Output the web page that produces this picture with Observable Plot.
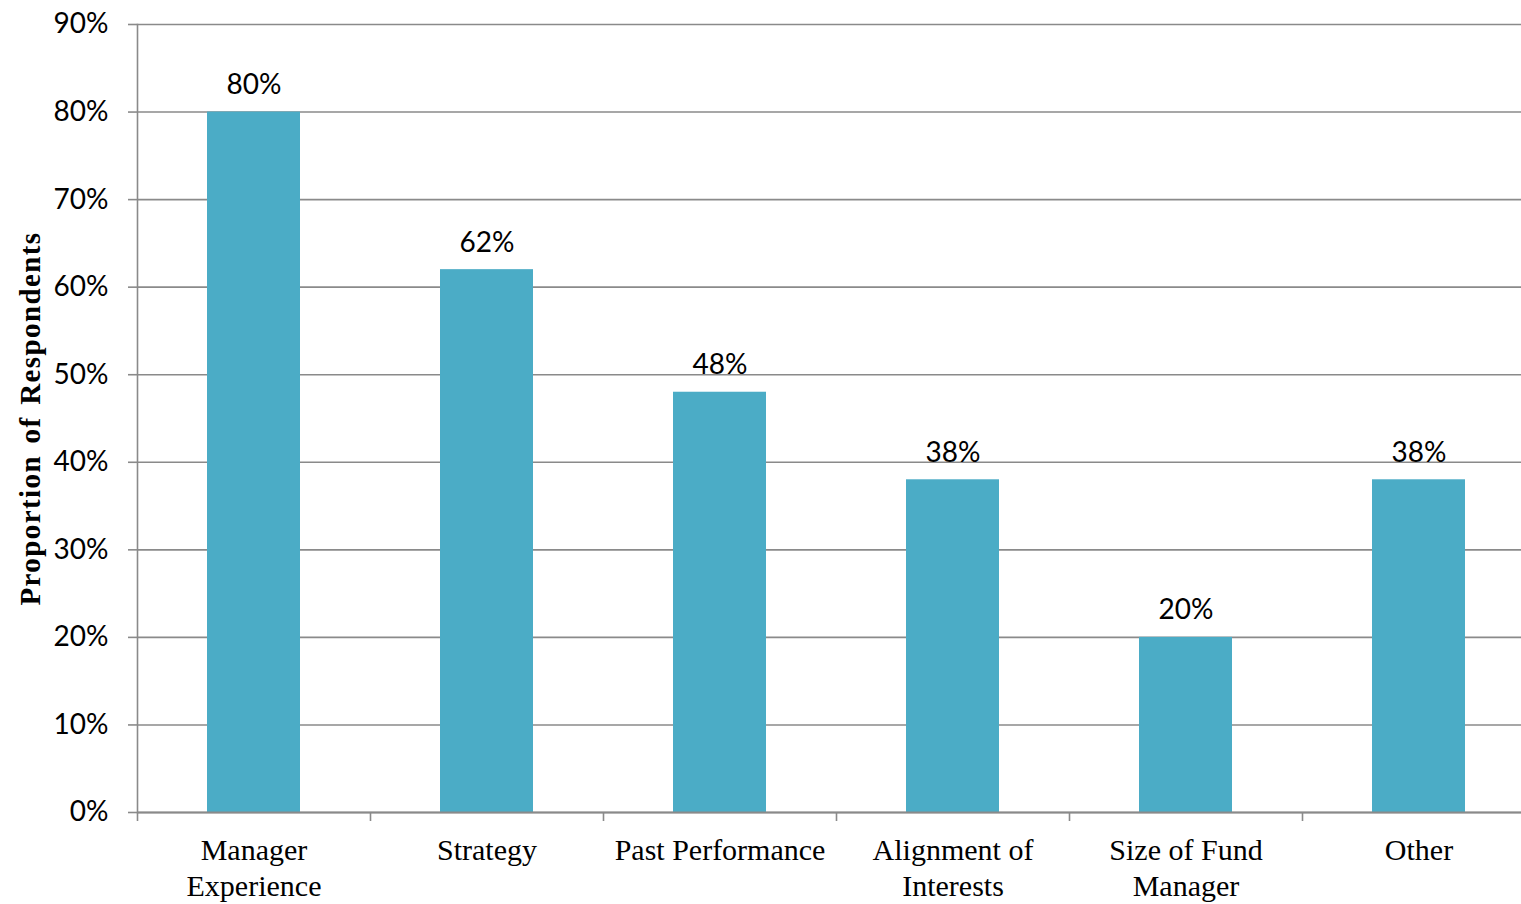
<!DOCTYPE html>
<html>
<head>
<meta charset="utf-8">
<script src="https://cdn.jsdelivr.net/npm/d3@7"></script>
<script src="https://cdn.jsdelivr.net/npm/@observablehq/plot@0.6"></script>
<style>
  html, body { margin: 0; padding: 0; background: #ffffff; }
  #chart svg { display: block; }
  .y-title text { letter-spacing: 1.4px; word-spacing: 3px; }
</style>
</head>
<body>
<div id="chart"></div>
<script>
// Survey: factors considered when selecting a fund manager
const categories = [
  "Manager\nExperience",
  "Strategy",
  "Past Performance",
  "Alignment of\nInterests",
  "Size of Fund\nManager",
  "Other"
];
const shares = [0.80, 0.62, 0.48, 0.38, 0.20, 0.38];
const yTicks = [0, 0.1, 0.2, 0.3, 0.4, 0.5, 0.6, 0.7, 0.8, 0.9];
const yTitle = "Proportion of Respondents";

const rows = categories.map((c, i) => ({category: c, share: shares[i]}));

const pct = d3.format(".0%");
const gray = "#8a8a8a";
const barColor = "#4bacc6";
const numFont = "Lato, 'Open Sans', sans-serif";
const serifFont = "'Liberation Serif', 'DejaVu Serif', serif";

const left = 137, right = 1535;
const step = (right - left) / categories.length;

const chart = Plot.plot({
  width: 1521,
  height: 904,
  marginLeft: left,
  marginRight: 0,
  marginTop: 24,
  marginBottom: 92,
  style: {background: "#ffffff", overflow: "hidden"},
  x: {domain: categories, range: [left, right], paddingInner: 0.6, paddingOuter: 0.3},
  y: {domain: [0, 0.9]},
  marks: [
    Plot.gridY(yTicks, {stroke: gray, strokeOpacity: 1, strokeWidth: 1.6}),
    Plot.barY(rows, {x: "category", y: "share", fill: barColor}),
    Plot.frame({anchor: "left", stroke: gray, strokeWidth: 1.6}),
    Plot.ruleY([0], {stroke: gray, strokeWidth: 2}),
    Plot.axisY(yTicks, {
      tickFormat: pct, tickSize: 9, tickPadding: 20, stroke: gray, strokeWidth: 1.6,
      fontSize: 28, fontFamily: numFont, fill: "#000", label: null
    }),
    // category boundary ticks
    Plot.axisX({tickSize: 9, dx: -step / 2, text: null, stroke: gray, strokeWidth: 1.6, label: null}),
    Plot.axisX({
      tickSize: 0, tickPadding: 22, fontSize: 30, lineHeight: 1.2,
      fontFamily: serifFont, fill: "#000", label: null
    }),
    Plot.text(rows, {
      x: "category", y: "share", text: d => pct(d.share),
      dy: -18, lineAnchor: "bottom", fontSize: 28, fontFamily: numFont, fill: "#000"
    }),
    Plot.text([yTitle], {
      frameAnchor: "left", textAnchor: "middle", rotate: -90, dx: -107, fontSize: 29,
      fontWeight: "bold", fontFamily: serifFont, fill: "#000", text: d => d,
      className: "y-title"
    })
  ]
});

document.getElementById("chart").appendChild(chart);
</script>
</body>
</html>
